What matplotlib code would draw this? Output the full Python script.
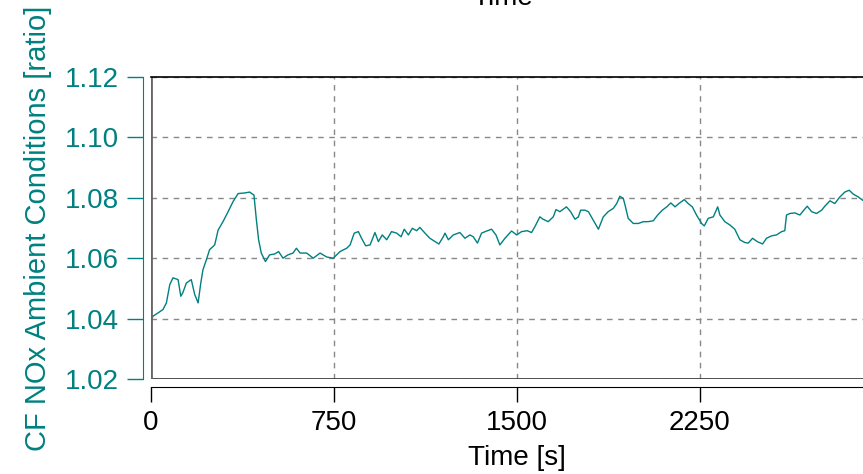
import matplotlib.pyplot as plt

plt.rcParams['font.family'] = ['Liberation Sans', 'DejaVu Sans']

# 时间 [s] 与 CF NOx 数值
time_s = [0, 8, 29, 49, 63, 77, 90, 111, 122, 130, 145, 165, 179, 193, 204, 213,
          227, 240, 261, 275, 295, 316, 336, 357, 384, 404, 422, 432, 441, 452,
          469, 486, 507, 523, 541, 561, 582, 596, 611, 638, 665, 693, 720, 747,
          775, 802, 816, 833, 850, 863, 880, 898, 918, 932, 948, 966, 986, 1007,
          1025, 1038, 1055, 1071, 1089, 1102, 1123, 1143, 1164, 1180, 1198, 1205,
          1219, 1239, 1266, 1287, 1307, 1321, 1338, 1355, 1376, 1396, 1414, 1430,
          1451, 1478, 1499, 1519, 1542, 1560, 1574, 1594, 1607, 1628, 1649, 1660,
          1676, 1703, 1720, 1738, 1752, 1761, 1779, 1793, 1813, 1834, 1854, 1874,
          1895, 1909, 1922, 1936, 1945, 1956, 1977, 1998, 2018, 2038, 2059, 2077,
          2096, 2114, 2131, 2148, 2164, 2186, 2202, 2219, 2236, 2257, 2268, 2284,
          2305, 2323, 2332, 2352, 2373, 2393, 2414, 2434, 2448, 2466, 2485, 2507,
          2523, 2544, 2564, 2585, 2598, 2605, 2619, 2639, 2660, 2676, 2690, 2708,
          2728, 2749, 2762, 2783, 2803, 2824, 2844, 2862, 2879, 2899, 2917]
cf_nox = [1.0392, 1.0408, 1.0419, 1.0430, 1.0452, 1.0513, 1.0535, 1.0529, 1.0474,
          1.0485, 1.0518, 1.0529, 1.0480, 1.0452, 1.0518, 1.0562, 1.0595, 1.0628,
          1.0644, 1.0693, 1.0721, 1.0754, 1.0787, 1.0814, 1.0816, 1.0819, 1.0809,
          1.0726, 1.0661, 1.0617, 1.0589, 1.0611, 1.0614, 1.0622, 1.0600, 1.0611,
          1.0617, 1.0633, 1.0617, 1.0617, 1.0600, 1.0617, 1.0604, 1.0600, 1.0622,
          1.0633, 1.0644, 1.0683, 1.0688, 1.0666, 1.0641, 1.0644, 1.0685, 1.0655,
          1.0677, 1.0661, 1.0688, 1.0683, 1.0671, 1.0696, 1.0677, 1.0699, 1.0691,
          1.0702, 1.0683, 1.0666, 1.0655, 1.0647, 1.0671, 1.0683, 1.0661, 1.0677,
          1.0685, 1.0666, 1.0677, 1.0671, 1.0650, 1.0683, 1.0690, 1.0696, 1.0677,
          1.0644, 1.0666, 1.0690, 1.0677, 1.0688, 1.0691, 1.0685, 1.0705, 1.0737,
          1.0729, 1.0721, 1.0737, 1.0761, 1.0754, 1.0770, 1.0754, 1.0729, 1.0737,
          1.0759, 1.0759, 1.0754, 1.0726, 1.0696, 1.0737, 1.0754, 1.0765, 1.0781,
          1.0805, 1.0798, 1.0770, 1.0732, 1.0715, 1.0715, 1.0721, 1.0721, 1.0724,
          1.0743, 1.0759, 1.0770, 1.0783, 1.0770, 1.0781, 1.0794, 1.0781, 1.0770,
          1.0743, 1.0715, 1.0707, 1.0732, 1.0737, 1.0770, 1.0743, 1.0721, 1.0710,
          1.0696, 1.0661, 1.0652, 1.0650, 1.0666, 1.0655, 1.0647, 1.0666, 1.0674,
          1.0677, 1.0688, 1.0691, 1.0743, 1.0748, 1.0750, 1.0743, 1.0759, 1.0772,
          1.0754, 1.0748, 1.0759, 1.0772, 1.0790, 1.0781, 1.0803, 1.0819, 1.0825,
          1.0812, 1.0803, 1.0792]

x_ticks = [0, 750, 1500, 2250]
y_ticks = [1.02, 1.04, 1.06, 1.08, 1.10, 1.12]

teal = '#008080'

fig = plt.figure(figsize=(8.63, 4.74), dpi=100)
ax = fig.add_axes([0.175, 0.2004, 0.848, 0.6372])

ax.plot(time_s, cf_nox, color=teal, lw=1.0)
ax.set_xlim(0, 3000)
ax.set_ylim(1.02, 1.12)

ax.set_xticks(x_ticks)
ax.set_yticks(y_ticks)
ax.set_yticklabels(['%.2f' % v for v in y_ticks])

ax.grid(True, color='#888888', linestyle=(0, (4, 4)), lw=1.0)

# 外移的坐标轴
ax.spines['right'].set_visible(False)
ax.spines['left'].set_position(('outward', 5.5))
ax.spines['left'].set_color(teal)
ax.spines['bottom'].set_position(('outward', 5.5))
ax.spines['top'].set_linewidth(1.2)

# 绘图区的边框
ax.axhline(1.02, color='#333333', lw=1.2)
ax.axvline(0, color='#666666', lw=2.0)

ax.tick_params(axis='y', colors=teal, labelsize=20, length=11.5, pad=6, width=1.0)
ax.tick_params(axis='x', colors='black', labelsize=20, length=11, pad=6, width=1.0)

ax.set_xlabel('Time [s]', fontsize=20, labelpad=6)
ax.set_ylabel('CF NOx Ambient Conditions [ratio]', fontsize=21, color=teal, labelpad=9)

fig.text(0.582, 0.989, 'Time', fontsize=20, ha='center', va='baseline')

plt.savefig('out.png', dpi=100)
